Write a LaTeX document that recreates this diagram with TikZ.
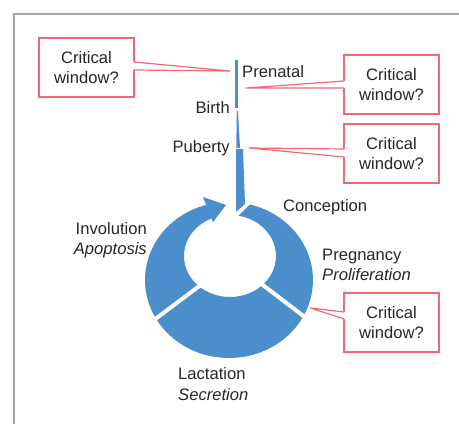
\documentclass[tikz,border=0pt]{standalone}
\usepackage{fontspec}
\setmainfont{Liberation Sans}
\usetikzlibrary{positioning}

\definecolor{ringblue}{RGB}{74,142,204}
\definecolor{callred}{RGB}{240,105,115}
\definecolor{textgray}{RGB}{38,38,38}
\definecolor{framegray}{RGB}{165,165,165}

\tikzset{
  lbl/.style={text=textgray, inner sep=0pt, font=\fontsize{16.6}{20.5}\selectfont},
  cwbox/.style={lbl, draw=callred, line width=1.2pt, fill=white, outer sep=0pt,
    minimum width=95pt, minimum height=59pt, align=center},
  cwedge/.style={draw=callred, line width=1.2pt, line join=round},
  gap/.style={draw=white, line width=4pt}
}

\begin{document}
\begin{tikzpicture}[x=1pt, y=-1pt]
\useasboundingbox (0,0) rectangle (459,424);
\draw[framegray, line width=2pt] (13.5,424) |- (459,13.5);

% the cycle
\fill[ringblue, even odd rule] (229,280) ellipse [x radius=84, y radius=78]
  (230,256) ellipse [x radius=46, y radius=41];
\fill[white] (230,265) -- (197,180) -- (274,180) -- (228,226) -- cycle;
\draw[gap] (255,279) -- (310,321);
\draw[gap] (210,278) -- (154,320);
\fill[ringblue] (203,197) -- (226,205) -- (213,222) -- cycle;

% growth line
\fill[ringblue] (235,60) rectangle (238,108);
\fill[ringblue] (236.8,111) -- (238,111) -- (240,148) -- (236.3,148) -- cycle;
\fill[ringblue] (236,149) -- (243,149) -- (245,204) -- (236,212) -- cycle;

\coordinate (prenatalpt) at (238,72);
\coordinate (birthpt) at (235,108);
\coordinate (pubertypt) at (236,148);
\node[lbl, right=4pt of prenatalpt] (prenatal) {Prenatal};
\node[lbl, left=5pt of birthpt] (birth) {Birth};
\node[lbl, left=6pt of pubertypt] (puberty) {Puberty};

\node[lbl, anchor=west] (conception) at (283,207) {Conception};
\node[lbl, align=left, anchor=west] (pregnancy) at (322,265) {Pregnancy\\\textit{Proliferation}};
\node[lbl, align=left, anchor=west] (lactation) at (178,384) {Lactation\\\textit{Secretion}};
\node[lbl, align=right, anchor=east] (involution) at (147,240) {Involution\\\textit{Apoptosis}};

% critical windows
\node[cwbox] (cw1) at (86.5,67.5) {Critical\\window?};
\node[cwbox] (cw2) at (391.5,84.5) {Critical\\window?};
\node[cwbox, below=10pt of cw2] (cw3) {Critical\\window?};
\node[cwbox] (cw4) at (391.5,322.5) {Critical\\window?};

\coordinate (tip1) at (230,71);
\coordinate (tip2) at (246,88);
\coordinate (tip3) at (249,148);
\coordinate (tip4) at (310.5,308);

\foreach \cw/\side/\ya/\yb/\tip in {cw1/east/62/70/tip1, cw2/west/81/88/tip2,
    cw3/west/149/157/tip3, cw4/west/312/319/tip4}{
  \fill[white] (\cw.\side |- 0,\ya) -- (\tip) -- (\cw.\side |- 0,\yb) -- cycle;
  \draw[white, line width=2pt] (\cw.\side |- 0,\ya) -- (\cw.\side |- 0,\yb);
  \draw[cwedge] (\cw.\side |- 0,\ya) -- (\tip) -- (\cw.\side |- 0,\yb);
}
\end{tikzpicture}
\end{document}
